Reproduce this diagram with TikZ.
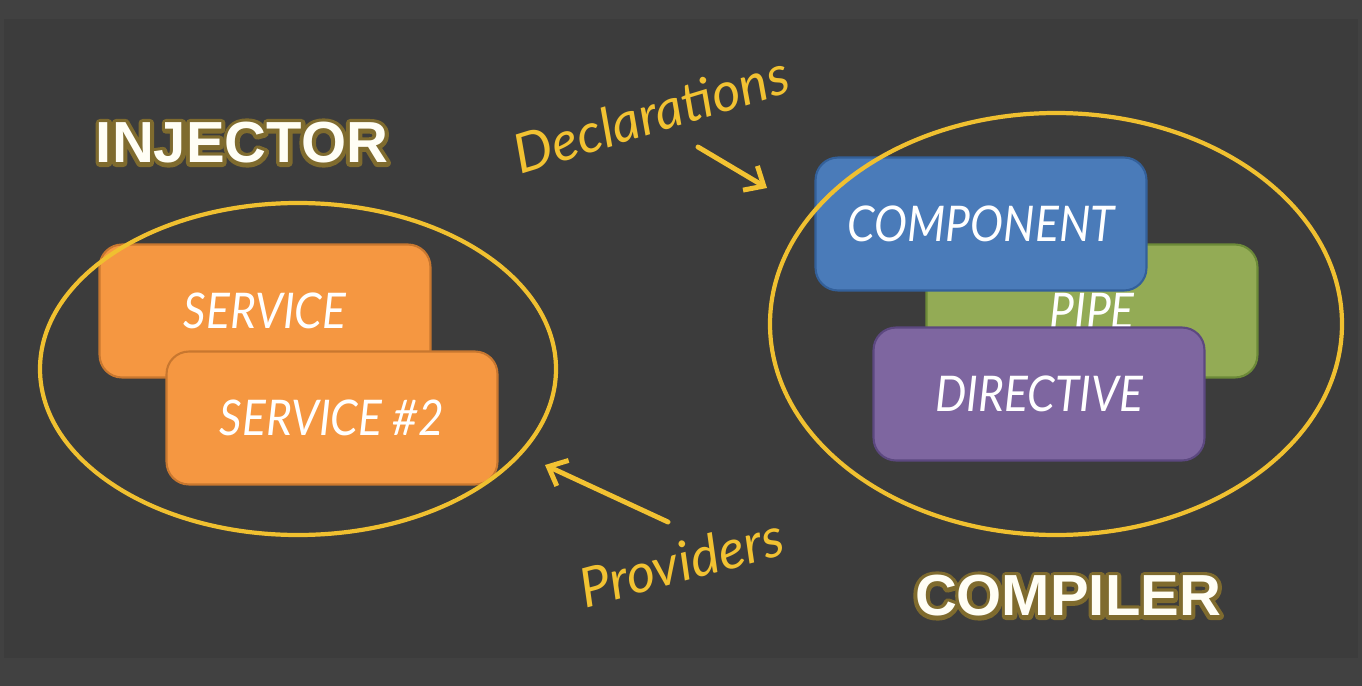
\documentclass[tikz,border=0pt]{standalone}
\usepackage{fontspec}
\setmainfont{Liberation Sans}
\newfontfamily\headglow[FakeBold=14]{Liberation Sans Bold}
\newfontfamily\hand[FakeStretch=0.9]{Lato}
\newfontfamily\script{Lato}
\usetikzlibrary{arrows.meta}

\definecolor{bgedge}{HTML}{414141}
\definecolor{bg}{HTML}{3C3C3C}
\definecolor{ringyellow}{HTML}{F0C030}
\definecolor{noteyellow}{HTML}{F2C232}
\definecolor{glowgold}{HTML}{7F6B2E}
\definecolor{svcfill}{HTML}{F59741}
\definecolor{svcline}{HTML}{C8772F}
\definecolor{cmpfill}{HTML}{4A7BB9}
\definecolor{cmpline}{HTML}{33609A}
\definecolor{pipefill}{HTML}{93AB55}
\definecolor{pipeline}{HTML}{6C8A38}
\definecolor{dirfill}{HTML}{7E66A0}
\definecolor{dirline}{HTML}{5C4880}

\begin{document}
\begin{tikzpicture}[x=0.02cm, y=-0.02cm, line join=round, line cap=round,
		>={Straight Barb[length=9pt,width=16pt]},
		box/.style={draw, line width=1.2pt, rounded corners=0.45cm, minimum width=6.62cm, minimum height=2.66cm,
			text=white, font=\hand\itshape\fontsize{28}{30}\selectfont},
		ring/.style={draw=ringyellow, line width=2.4pt},
		note/.style={text=noteyellow, font=\script\itshape\fontsize{31}{33}\selectfont},
		pointer/.style={->, draw=noteyellow, line width=2.8pt},
		head/.style={text=white!96!yellow, font=\bfseries\fontsize{33}{36}\selectfont},
		glow/.style={text=glowgold, font=\headglow\fontsize{33}{36}\selectfont}]
	% background, with a slightly lighter edge
	\fill[bgedge] (0,0) rectangle (1362,686);
	\fill[bg] (4,19) rectangle (1358,658);
	\useasboundingbox (0,0) rectangle (1362,686);
	% headings with a glow behind them
	\node[glow] (injglow) at (242,143) {INJECTOR};
	\node[glow] (cmpglow) at (1068,596) {COMPILER};
	\node[head] (injector) at (242,143) {INJECTOR};
	\node[head] (compiler) at (1068,596) {COMPILER};
	% injector side
	\node[box, fill=svcfill, draw=svcline] (service) at (265,311) {SERVICE};
	\node[box, fill=svcfill, draw=svcline] (servicetwo) at (332,418) {SERVICE \#2};
	% compiler side
	\node[box, fill=pipefill, draw=pipeline] (pipe) at (1092,311) {PIPE};
	\node[box, fill=cmpfill, draw=cmpline] (component) at (981,224) {COMPONENT};
	\node[box, fill=dirfill, draw=dirline] (directive) at (1039,394) {DIRECTIVE};
	% the two groups
	\draw[ring] (298,369) ellipse [x radius=258, y radius=166];
	\draw[ring] (1056,324) ellipse [x radius=286, y radius=211];
	% hand written notes
	\node[note, rotate=17] (decl) at (651,114) {Declarations};
	\node[note, rotate=15] (prov) at (681,562) {Providers};
	\coordinate (declTail) at (698,147);
	\coordinate (declTip) at (767,188);
	\coordinate (provTail) at (668,522);
	\coordinate (provTip) at (545,465);
	\draw[pointer] (declTail) -- (declTip);
	\draw[pointer] (provTail) -- (provTip);
\end{tikzpicture}
\end{document}
